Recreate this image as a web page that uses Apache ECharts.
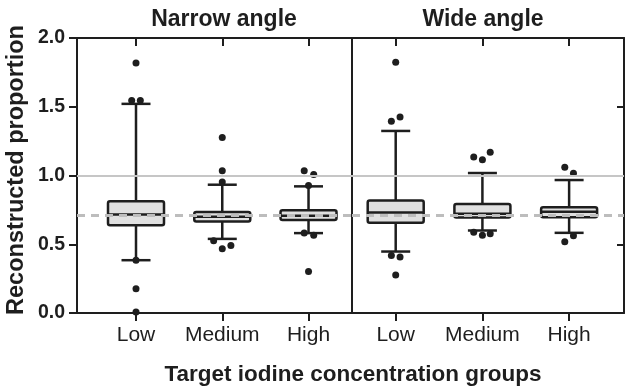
<!DOCTYPE html>
<html>
<head>
<meta charset="utf-8">
<script src="https://cdn.jsdelivr.net/npm/echarts@6/dist/echarts.min.js"></script>
<style>
html,body{margin:0;padding:0;background:#fff;}
#chart{width:627px;height:390px;}
</style>
</head>
<body>
<div id="chart"></div>
<script>
// ---- data ----
const categories = ['Low', 'Medium', 'High'];
const panelTitles = ['Narrow angle', 'Wide angle'];
const xAxisTitle = 'Target iodine concentration groups';
const yAxisTitle = 'Reconstructed proportion';
const yTicks = [0, 0.5, 1.0, 1.5, 2.0];

// [lower whisker, Q1, median, Q3, upper whisker] per category
const narrowBoxes = [
  [0.384, 0.639, 0.717, 0.812, 1.521],
  [0.539, 0.666, 0.700, 0.734, 0.933],
  [0.581, 0.676, 0.707, 0.748, 0.921]
];
const wideBoxes = [
  [0.447, 0.656, 0.731, 0.819, 1.324],
  [0.600, 0.695, 0.722, 0.792, 1.018],
  [0.583, 0.697, 0.736, 0.770, 0.967]
];

// outliers: [category index, value, horizontal jitter]
const narrowOutliers = [
  [0, 1.818, 0], [0, 1.546, -0.05], [0, 1.546, 0.05], [0, 0.384, 0], [0, 0.177, 0], [0, 0.007, 0],
  [1, 1.276, 0], [1, 1.035, 0], [1, 0.953, 0], [1, 0.525, -0.1], [1, 0.467, 0], [1, 0.491, 0.1],
  [2, 1.035, -0.05], [2, 1.008, 0.06], [2, 0.928, 0], [2, 0.581, -0.05], [2, 0.566, 0.06], [2, 0.301, 0]
];
const wideOutliers = [
  [0, 1.823, 0], [0, 1.395, -0.05], [0, 1.426, 0.05], [0, 0.418, -0.05], [0, 0.408, 0.05], [0, 0.277, 0],
  [1, 1.135, -0.1], [1, 1.115, 0], [1, 1.169, 0.09], [1, 0.588, -0.1], [1, 0.566, 0], [1, 0.576, 0.09],
  [2, 1.060, -0.05], [2, 1.016, 0.05], [2, 0.518, -0.05], [2, 0.561, 0.05]
];

const identityLine = 1.0;
const meanLine = 0.71;

// ---- chart ----
const INK = '#1e1e1e';
const FONT = '"Liberation Sans", Arial, Helvetica, sans-serif';
const catTicks = categories.map((c, i) => i);

function boxData(boxes) {
  return boxes.map((b, i) => [i].concat(b));
}
function outlierData(outs) {
  return outs.map(o => [o[0] + o[2], o[1]]);
}

function renderBox(params, api) {
  const x = api.value(0);
  const lo = api.coord([x, api.value(1)]);
  const q1 = api.coord([x, api.value(2)]);
  const md = api.coord([x, api.value(3)]);
  const q3 = api.coord([x, api.value(4)]);
  const hi = api.coord([x, api.value(5)]);
  const cx = lo[0];
  const hw = 28, cw = 14.5;
  const st = {stroke: INK, lineWidth: 2.5, fill: null};
  return {
    type: 'group',
    children: [
      {type: 'line', shape: {x1: cx, y1: hi[1], x2: cx, y2: q3[1]}, style: st},
      {type: 'line', shape: {x1: cx, y1: q1[1], x2: cx, y2: lo[1]}, style: st},
      {type: 'line', shape: {x1: cx - cw, y1: hi[1], x2: cx + cw, y2: hi[1]}, style: st},
      {type: 'line', shape: {x1: cx - cw, y1: lo[1], x2: cx + cw, y2: lo[1]}, style: st},
      {type: 'rect', shape: {x: cx - hw, y: q3[1], width: 2 * hw, height: q1[1] - q3[1], r: 2},
        style: {fill: '#e0e0e0', stroke: INK, lineWidth: 2.5}},
      {type: 'line', shape: {x1: cx - hw, y1: md[1], x2: cx + hw, y2: md[1]}, style: st}
    ]
  };
}

const axisLineStyle = {color: INK, width: 2};

function bottomX(grid, min, max) {
  return {
    gridIndex: grid, type: 'value', position: 'bottom', min: min, max: max,
    axisLine: {show: true, onZero: false, lineStyle: axisLineStyle},
    axisTick: {show: true, customValues: catTicks, length: 8, inside: false, lineStyle: axisLineStyle},
    axisLabel: {show: true, customValues: catTicks, formatter: v => categories[Math.round(v)] || '',
      fontFamily: FONT, fontSize: 21, color: INK, margin: 12},
    splitLine: {show: false}
  };
}
function topX(grid, min, max) {
  return {
    gridIndex: grid, type: 'value', position: 'top', min: min, max: max,
    axisLine: {show: true, onZero: false, lineStyle: axisLineStyle},
    axisTick: {show: true, customValues: catTicks, length: 8, inside: true, lineStyle: axisLineStyle},
    axisLabel: {show: false},
    splitLine: {show: false}
  };
}

function refSeries(xi, yi) {
  return {
    type: 'scatter', xAxisIndex: xi, yAxisIndex: yi, data: [], silent: true, z: 1,
    markLine: {
      silent: true, symbol: 'none', label: {show: false}, animation: false,
      data: [
        {yAxis: identityLine, lineStyle: {color: '#c6c6c6', width: 2, type: 'solid'}},
        {yAxis: meanLine, lineStyle: {color: '#bdbdbd', width: 3, type: [8, 6]}}
      ],
      emphasis: {disabled: true}
    }
  };
}
function boxSeries(xi, yi, boxes) {
  return {
    type: 'custom', xAxisIndex: xi, yAxisIndex: yi, z: 3, silent: true,
    renderItem: renderBox, data: boxData(boxes),
    encode: {x: 0, y: [1, 2, 3, 4, 5]}
  };
}
function outlierSeries(xi, yi, outs) {
  return {
    type: 'scatter', xAxisIndex: xi, yAxisIndex: yi, z: 4, silent: true,
    symbol: 'circle', symbolSize: 7, itemStyle: {color: INK, opacity: 1},
    data: outlierData(outs)
  };
}

const chart = echarts.init(document.getElementById('chart'), null, {renderer: 'canvas'});
chart.setOption({
  animation: false,
  backgroundColor: '#fff',
  textStyle: {fontFamily: FONT},
  title: [
    {text: panelTitles[0], left: 224, top: 8, textAlign: 'center', padding: 0,
      textStyle: {fontFamily: FONT, fontSize: 23, fontWeight: 'bold', color: INK}},
    {text: panelTitles[1], left: 483, top: 8, textAlign: 'center', padding: 0,
      textStyle: {fontFamily: FONT, fontSize: 23, fontWeight: 'bold', color: INK}},
    {text: xAxisTitle, left: 353, top: 363, textAlign: 'center', padding: 0,
      textStyle: {fontFamily: FONT, fontSize: 22.5, fontWeight: 'bold', color: INK}}
  ],
  graphic: [{
    type: 'text', x: 17, y: 170, rotation: Math.PI / 2,
    style: {text: yAxisTitle, fontFamily: FONT, fontSize: 23.5, fontWeight: 'bold', fill: INK,
      align: 'center', verticalAlign: 'middle'}
  }],
  grid: [
    {left: 77, top: 38, width: 275, height: 275},
    {left: 352, top: 38, width: 272, height: 275}
  ],
  xAxis: [
    bottomX(0, -0.684, 2.504),
    topX(0, -0.684, 2.504),
    bottomX(1, -0.504, 2.633),
    topX(1, -0.504, 2.633)
  ],
  yAxis: [
    {gridIndex: 0, type: 'value', position: 'left', min: 0, max: 2, interval: 0.5,
      axisLine: {show: true, onZero: false, lineStyle: axisLineStyle},
      axisTick: {show: true, length: 8, lineStyle: axisLineStyle},
      axisLabel: {show: true, customValues: yTicks, formatter: v => v.toFixed(1), fontFamily: FONT,
        fontSize: 19.5, fontWeight: 'bold', color: INK, margin: 12},
      splitLine: {show: false}},
    {gridIndex: 1, type: 'value', position: 'left', min: 0, max: 2, interval: 0.5,
      axisLine: {show: true, onZero: false, lineStyle: axisLineStyle},
      axisTick: {show: false}, axisLabel: {show: false}, splitLine: {show: false}},
    {gridIndex: 1, type: 'value', position: 'right', min: 0, max: 2, interval: 0.5,
      axisLine: {show: true, onZero: false, lineStyle: axisLineStyle},
      axisTick: {show: true, inside: true, length: 7, lineStyle: axisLineStyle},
      axisLabel: {show: false}, splitLine: {show: false}}
  ],
  series: [
    refSeries(0, 0),
    refSeries(2, 1),
    boxSeries(0, 0, narrowBoxes),
    boxSeries(2, 1, wideBoxes),
    outlierSeries(0, 0, narrowOutliers),
    outlierSeries(2, 1, wideOutliers)
  ]
});
</script>
</body>
</html>
